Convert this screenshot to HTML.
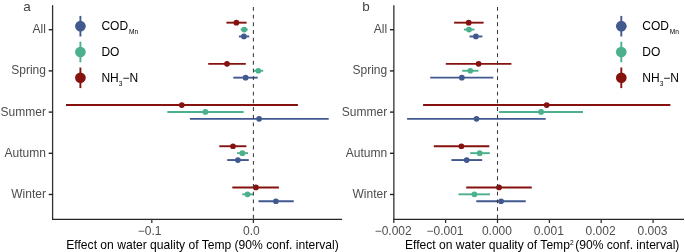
<!DOCTYPE html>
<html><head><meta charset="utf-8"><style>
html,body{margin:0;padding:0;background:#fff;width:685px;height:252px;overflow:hidden}
svg{display:block;font-family:"Liberation Sans", sans-serif;will-change:transform}
</style></head><body>
<svg width="685" height="252" viewBox="0 0 685 252">
<rect width="685" height="252" fill="#fff"/>
<line x1="226.40" y1="22.67" x2="246.60" y2="22.67" stroke="#85120E" stroke-width="1.9"/>
<circle cx="236.40" cy="22.67" r="2.85" fill="#85120E"/>
<line x1="240.70" y1="29.57" x2="247.70" y2="29.57" stroke="#4BB08C" stroke-width="1.9"/>
<circle cx="244.20" cy="29.57" r="2.85" fill="#4BB08C"/>
<line x1="238.90" y1="36.47" x2="249.20" y2="36.47" stroke="#42598F" stroke-width="1.9"/>
<circle cx="243.90" cy="36.47" r="2.85" fill="#42598F"/>
<line x1="208.20" y1="63.86" x2="245.80" y2="63.86" stroke="#85120E" stroke-width="1.9"/>
<circle cx="227.00" cy="63.86" r="2.85" fill="#85120E"/>
<line x1="253.90" y1="70.76" x2="263.20" y2="70.76" stroke="#4BB08C" stroke-width="1.9"/>
<circle cx="258.30" cy="70.76" r="2.85" fill="#4BB08C"/>
<line x1="233.30" y1="77.66" x2="257.70" y2="77.66" stroke="#42598F" stroke-width="1.9"/>
<circle cx="245.60" cy="77.66" r="2.85" fill="#42598F"/>
<line x1="66.00" y1="105.05" x2="297.90" y2="105.05" stroke="#85120E" stroke-width="1.9"/>
<circle cx="181.80" cy="105.05" r="2.85" fill="#85120E"/>
<line x1="167.30" y1="111.95" x2="243.60" y2="111.95" stroke="#4BB08C" stroke-width="1.9"/>
<circle cx="205.40" cy="111.95" r="2.85" fill="#4BB08C"/>
<line x1="189.90" y1="118.85" x2="328.70" y2="118.85" stroke="#42598F" stroke-width="1.9"/>
<circle cx="259.10" cy="118.85" r="2.85" fill="#42598F"/>
<line x1="219.30" y1="146.24" x2="246.40" y2="146.24" stroke="#85120E" stroke-width="1.9"/>
<circle cx="233.00" cy="146.24" r="2.85" fill="#85120E"/>
<line x1="237.10" y1="153.14" x2="248.00" y2="153.14" stroke="#4BB08C" stroke-width="1.9"/>
<circle cx="242.40" cy="153.14" r="2.85" fill="#4BB08C"/>
<line x1="227.20" y1="160.04" x2="248.80" y2="160.04" stroke="#42598F" stroke-width="1.9"/>
<circle cx="237.90" cy="160.04" r="2.85" fill="#42598F"/>
<line x1="232.30" y1="187.43" x2="278.90" y2="187.43" stroke="#85120E" stroke-width="1.9"/>
<circle cx="255.90" cy="187.43" r="2.85" fill="#85120E"/>
<line x1="242.30" y1="194.33" x2="253.20" y2="194.33" stroke="#4BB08C" stroke-width="1.9"/>
<circle cx="247.50" cy="194.33" r="2.85" fill="#4BB08C"/>
<line x1="258.50" y1="201.23" x2="293.70" y2="201.23" stroke="#42598F" stroke-width="1.9"/>
<circle cx="275.90" cy="201.23" r="2.85" fill="#42598F"/>
<line x1="253.4" y1="218.7" x2="253.4" y2="5.0" stroke="#3a3a3a" stroke-width="1.05" stroke-dasharray="3.85 3.85"/>
<line x1="52.6" y1="5.15" x2="52.6" y2="219.79999999999998" stroke="#303030" stroke-width="1.3"/>
<line x1="52.050000000000004" y1="219.29999999999998" x2="342.1" y2="219.29999999999998" stroke="#262626" stroke-width="1.2"/>
<line x1="48.7" y1="29.72" x2="52.6" y2="29.72" stroke="#1e1e1e" stroke-width="1.35"/>
<text x="45.90" y="33.22" text-anchor="end" fill="#4D4D4D" font-size="12">All</text>
<line x1="48.7" y1="70.91" x2="52.6" y2="70.91" stroke="#1e1e1e" stroke-width="1.35"/>
<text x="45.90" y="74.41" text-anchor="end" fill="#4D4D4D" font-size="12">Spring</text>
<line x1="48.7" y1="112.10" x2="52.6" y2="112.10" stroke="#1e1e1e" stroke-width="1.35"/>
<text x="45.90" y="115.60" text-anchor="end" fill="#4D4D4D" font-size="12">Summer</text>
<line x1="48.7" y1="153.29" x2="52.6" y2="153.29" stroke="#1e1e1e" stroke-width="1.35"/>
<text x="45.90" y="156.79" text-anchor="end" fill="#4D4D4D" font-size="12">Autumn</text>
<line x1="48.7" y1="194.48" x2="52.6" y2="194.48" stroke="#1e1e1e" stroke-width="1.35"/>
<text x="45.90" y="197.98" text-anchor="end" fill="#4D4D4D" font-size="12">Winter</text>
<line x1="151.8" y1="219.2" x2="151.8" y2="223.0" stroke="#333333" stroke-width="1.3"/>
<text x="149.70" y="235.3" text-anchor="middle" fill="#4D4D4D" font-size="12">−0.1</text>
<line x1="253.4" y1="219.2" x2="253.4" y2="223.0" stroke="#333333" stroke-width="1.3"/>
<text x="251.30" y="235.3" text-anchor="middle" fill="#4D4D4D" font-size="12">0.0</text>
<text x="66.3" y="248.9" fill="#000" font-size="12.1">Effect on water quality of Temp (90% conf. interval)</text>
<text x="23.3" y="10.7" fill="#444" font-size="13.5">a</text>
<line x1="80.4" y1="15.90" x2="80.4" y2="36.50" stroke="#42598F" stroke-width="1.9"/>
<circle cx="80.4" cy="26.20" r="5.35" fill="#42598F"/>
<text x="101.40" y="29.90" fill="#000" font-size="12"><tspan>COD</tspan><tspan font-size="6.6" dy="4.1" dx="0.9">Mn</tspan></text>
<line x1="80.4" y1="41.70" x2="80.4" y2="62.30" stroke="#4BB08C" stroke-width="1.9"/>
<circle cx="80.4" cy="52.00" r="5.35" fill="#4BB08C"/>
<text x="101.40" y="55.70" fill="#000" font-size="12">DO</text>
<line x1="80.4" y1="67.50" x2="80.4" y2="88.10" stroke="#85120E" stroke-width="1.9"/>
<circle cx="80.4" cy="77.80" r="5.35" fill="#85120E"/>
<text x="101.40" y="81.50" fill="#000" font-size="12"><tspan>NH</tspan><tspan font-size="6.6" dy="4.9">3</tspan><tspan dy="-4.9">−N</tspan></text>
<line x1="454.10" y1="22.67" x2="483.60" y2="22.67" stroke="#85120E" stroke-width="1.9"/>
<circle cx="468.70" cy="22.67" r="2.85" fill="#85120E"/>
<line x1="463.90" y1="29.57" x2="474.50" y2="29.57" stroke="#4BB08C" stroke-width="1.9"/>
<circle cx="469.00" cy="29.57" r="2.85" fill="#4BB08C"/>
<line x1="469.50" y1="36.47" x2="482.40" y2="36.47" stroke="#42598F" stroke-width="1.9"/>
<circle cx="475.90" cy="36.47" r="2.85" fill="#42598F"/>
<line x1="445.80" y1="63.86" x2="511.40" y2="63.86" stroke="#85120E" stroke-width="1.9"/>
<circle cx="478.60" cy="63.86" r="2.85" fill="#85120E"/>
<line x1="462.20" y1="70.76" x2="478.50" y2="70.76" stroke="#4BB08C" stroke-width="1.9"/>
<circle cx="470.30" cy="70.76" r="2.85" fill="#4BB08C"/>
<line x1="430.20" y1="77.66" x2="493.30" y2="77.66" stroke="#42598F" stroke-width="1.9"/>
<circle cx="461.80" cy="77.66" r="2.85" fill="#42598F"/>
<line x1="423.10" y1="105.05" x2="670.40" y2="105.05" stroke="#85120E" stroke-width="1.9"/>
<circle cx="546.70" cy="105.05" r="2.85" fill="#85120E"/>
<line x1="499.10" y1="111.95" x2="583.00" y2="111.95" stroke="#4BB08C" stroke-width="1.9"/>
<circle cx="541.10" cy="111.95" r="2.85" fill="#4BB08C"/>
<line x1="407.10" y1="118.85" x2="545.70" y2="118.85" stroke="#42598F" stroke-width="1.9"/>
<circle cx="476.50" cy="118.85" r="2.85" fill="#42598F"/>
<line x1="433.80" y1="146.24" x2="489.30" y2="146.24" stroke="#85120E" stroke-width="1.9"/>
<circle cx="461.40" cy="146.24" r="2.85" fill="#85120E"/>
<line x1="470.20" y1="153.14" x2="489.80" y2="153.14" stroke="#4BB08C" stroke-width="1.9"/>
<circle cx="479.70" cy="153.14" r="2.85" fill="#4BB08C"/>
<line x1="451.40" y1="160.04" x2="482.20" y2="160.04" stroke="#42598F" stroke-width="1.9"/>
<circle cx="466.70" cy="160.04" r="2.85" fill="#42598F"/>
<line x1="466.20" y1="187.43" x2="531.80" y2="187.43" stroke="#85120E" stroke-width="1.9"/>
<circle cx="499.00" cy="187.43" r="2.85" fill="#85120E"/>
<line x1="458.50" y1="194.33" x2="490.00" y2="194.33" stroke="#4BB08C" stroke-width="1.9"/>
<circle cx="474.40" cy="194.33" r="2.85" fill="#4BB08C"/>
<line x1="476.30" y1="201.23" x2="525.70" y2="201.23" stroke="#42598F" stroke-width="1.9"/>
<circle cx="501.10" cy="201.23" r="2.85" fill="#42598F"/>
<line x1="497.5" y1="218.7" x2="497.5" y2="5.0" stroke="#3a3a3a" stroke-width="1.05" stroke-dasharray="3.85 3.85"/>
<line x1="393.85" y1="5.15" x2="393.85" y2="219.79999999999998" stroke="#303030" stroke-width="1.3"/>
<line x1="393.3" y1="219.29999999999998" x2="684.0" y2="219.29999999999998" stroke="#262626" stroke-width="1.2"/>
<line x1="389.95000000000005" y1="29.72" x2="393.85" y2="29.72" stroke="#1e1e1e" stroke-width="1.35"/>
<text x="387.15" y="33.22" text-anchor="end" fill="#4D4D4D" font-size="12">All</text>
<line x1="389.95000000000005" y1="70.91" x2="393.85" y2="70.91" stroke="#1e1e1e" stroke-width="1.35"/>
<text x="387.15" y="74.41" text-anchor="end" fill="#4D4D4D" font-size="12">Spring</text>
<line x1="389.95000000000005" y1="112.10" x2="393.85" y2="112.10" stroke="#1e1e1e" stroke-width="1.35"/>
<text x="387.15" y="115.60" text-anchor="end" fill="#4D4D4D" font-size="12">Summer</text>
<line x1="389.95000000000005" y1="153.29" x2="393.85" y2="153.29" stroke="#1e1e1e" stroke-width="1.35"/>
<text x="387.15" y="156.79" text-anchor="end" fill="#4D4D4D" font-size="12">Autumn</text>
<line x1="389.95000000000005" y1="194.48" x2="393.85" y2="194.48" stroke="#1e1e1e" stroke-width="1.35"/>
<text x="387.15" y="197.98" text-anchor="end" fill="#4D4D4D" font-size="12">Winter</text>
<line x1="393.8" y1="219.2" x2="393.8" y2="223.0" stroke="#333333" stroke-width="1.3"/>
<text x="393.20" y="235.3" text-anchor="middle" fill="#4D4D4D" font-size="12">−0.002</text>
<line x1="445.6" y1="219.2" x2="445.6" y2="223.0" stroke="#333333" stroke-width="1.3"/>
<text x="445.00" y="235.3" text-anchor="middle" fill="#4D4D4D" font-size="12">−0.001</text>
<line x1="497.5" y1="219.2" x2="497.5" y2="223.0" stroke="#333333" stroke-width="1.3"/>
<text x="496.90" y="235.3" text-anchor="middle" fill="#4D4D4D" font-size="12">0.000</text>
<line x1="549.4" y1="219.2" x2="549.4" y2="223.0" stroke="#333333" stroke-width="1.3"/>
<text x="548.80" y="235.3" text-anchor="middle" fill="#4D4D4D" font-size="12">0.001</text>
<line x1="601.2" y1="219.2" x2="601.2" y2="223.0" stroke="#333333" stroke-width="1.3"/>
<text x="600.60" y="235.3" text-anchor="middle" fill="#4D4D4D" font-size="12">0.002</text>
<line x1="653.1" y1="219.2" x2="653.1" y2="223.0" stroke="#333333" stroke-width="1.3"/>
<text x="652.50" y="235.3" text-anchor="middle" fill="#4D4D4D" font-size="12">0.003</text>
<text x="405.0" y="248.9" fill="#000" font-size="12.1">Effect on water quality of Temp<tspan font-size="6.6" dy="-4">2</tspan><tspan dy="4" dx="1.6">(90% conf. interval)</tspan></text>
<text x="362.3" y="10.7" fill="#444" font-size="13.5">b</text>
<line x1="621.3" y1="15.90" x2="621.3" y2="36.50" stroke="#42598F" stroke-width="1.9"/>
<circle cx="621.3" cy="26.20" r="5.35" fill="#42598F"/>
<text x="642.30" y="29.90" fill="#000" font-size="12"><tspan>COD</tspan><tspan font-size="6.6" dy="4.1" dx="0.9">Mn</tspan></text>
<line x1="621.3" y1="41.70" x2="621.3" y2="62.30" stroke="#4BB08C" stroke-width="1.9"/>
<circle cx="621.3" cy="52.00" r="5.35" fill="#4BB08C"/>
<text x="642.30" y="55.70" fill="#000" font-size="12">DO</text>
<line x1="621.3" y1="67.50" x2="621.3" y2="88.10" stroke="#85120E" stroke-width="1.9"/>
<circle cx="621.3" cy="77.80" r="5.35" fill="#85120E"/>
<text x="642.30" y="81.50" fill="#000" font-size="12"><tspan>NH</tspan><tspan font-size="6.6" dy="4.9">3</tspan><tspan dy="-4.9">−N</tspan></text>
</svg>
</body></html>
